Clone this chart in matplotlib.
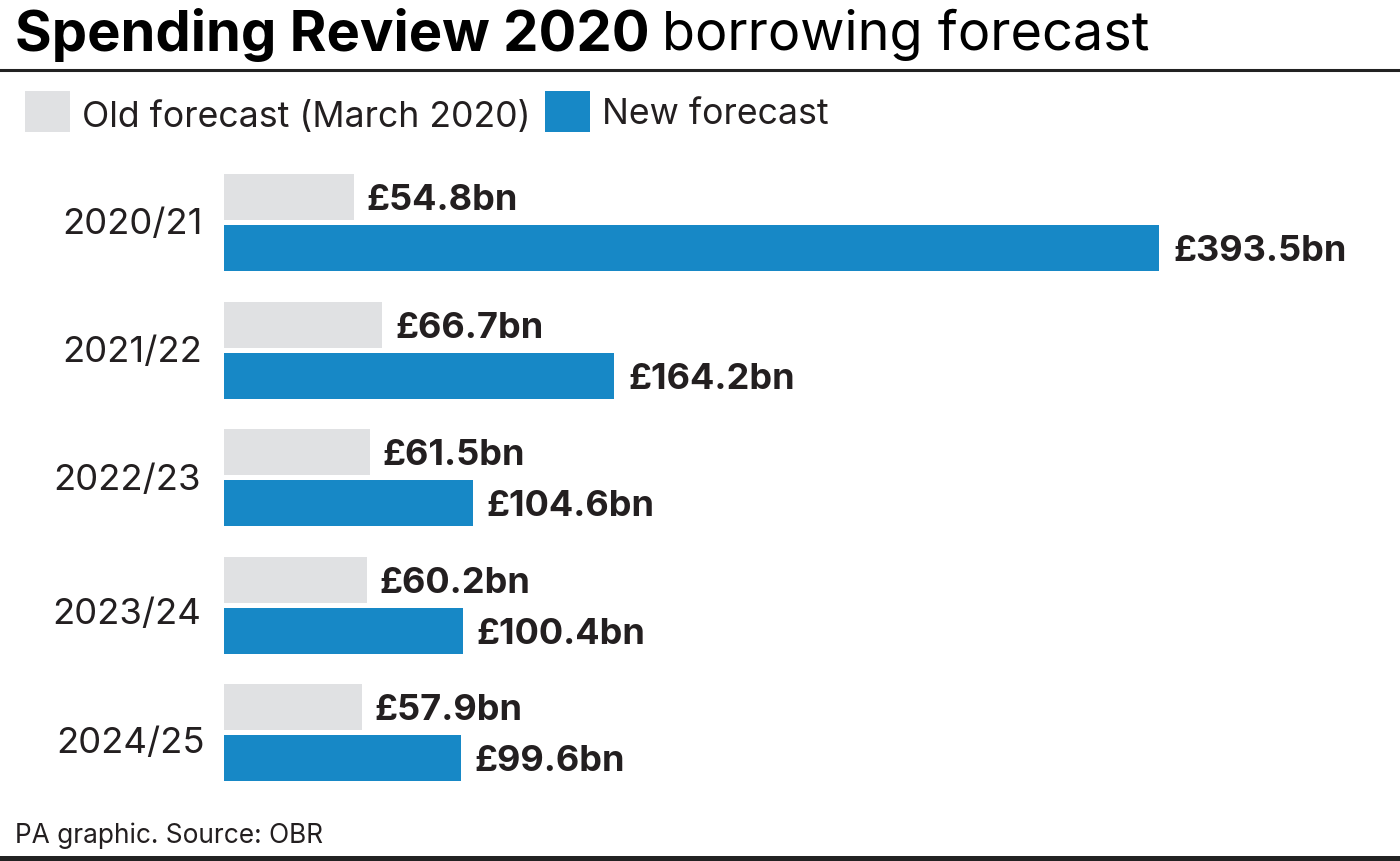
import matplotlib
matplotlib.use('Agg')
from matplotlib import pyplot as plt
from matplotlib.patches import Rectangle

years = ['2020/21', '2021/22', '2022/23', '2023/24', '2024/25']
old_forecast = [54.8, 66.7, 61.5, 60.2, 57.9]
new_forecast = [393.5, 164.2, 104.6, 100.4, 99.6]
old_labels = ['£54.8bn', '£66.7bn', '£61.5bn', '£60.2bn', '£57.9bn']
new_labels = ['£393.5bn', '£164.2bn', '£104.6bn', '£100.4bn', '£99.6bn']

GREY = '#e0e1e3'
BLUE = '#1788c6'
INK = '#231f20'

plt.rcParams['font.family'] = ['Inter', 'DejaVu Sans']

W, H = 1400, 862
fig = plt.figure(figsize=(W / 100, H / 100), dpi=100)

# whole figure in pixels for the furniture
bg = fig.add_axes([0, 0, 1, 1])
bg.set_xlim(0, W)
bg.set_ylim(H, 0)
bg.axis('off')

bg.text(15, 35, 'Spending Review 2020', fontsize=40.4, fontweight='bold', color='black',
        va='center', ha='left')
bg.text(662, 35, 'borrowing forecast', fontsize=38.9, color='black', va='center', ha='left')
bg.plot([0, W], [71, 71], color='#222222', lw=2.2)

bg.add_patch(Rectangle((25, 92), 45, 41, color=GREY, lw=0))
bg.text(82, 117, 'Old forecast (March 2020)', fontsize=25.7, color=INK, va='center', ha='left')
bg.add_patch(Rectangle((545, 92), 45, 41, color=BLUE, lw=0))
bg.text(602, 115, 'New forecast', fontsize=25.7, color=INK, va='center', ha='left')

bg.text(15, 836, 'PA graphic. Source: OBR', fontsize=18.95, color=INK, va='center', ha='left')
bg.add_patch(Rectangle((0, 857), W, 5, color='#222222', lw=0))

# chart area: x 224px = 0, 1159px = 393.5
ax = fig.add_axes([224 / W, 1 - 790 / H, (1400 - 224) / W, (790 - 165) / H])
ax.patch.set_alpha(0)
ax.set_xlim(0, (1400 - 224) * 393.5 / 935)
ax.set_ylim(790, 165)
ax.axis('off')

slot_top = [175, 303, 430, 558, 685]
year_right = [203, 202, 201, 201, 205]
year_y = [225, 353, 481, 615, 744]
bar_h = 46
for i in range(len(years)):
    top = slot_top[i]
    ax.barh(top + bar_h / 2, old_forecast[i], height=bar_h, color=GREY)
    ax.barh(top + 51 + bar_h / 2, new_forecast[i], height=bar_h, color=BLUE)
    ax.annotate(old_labels[i], (old_forecast[i], top + bar_h / 2), xytext=(9, -1.5),
                textcoords='offset points', fontsize=26, fontweight='bold', color=INK,
                va='center', ha='left')
    ax.annotate(new_labels[i], (new_forecast[i], top + 51 + bar_h / 2), xytext=(10, -1.5),
                textcoords='offset points', fontsize=26, fontweight='bold', color=INK,
                va='center', ha='left')
    bg.text(year_right[i], year_y[i], years[i], fontsize=26.3, color=INK, va='center', ha='right')

fig.savefig('out.png', dpi=100)
